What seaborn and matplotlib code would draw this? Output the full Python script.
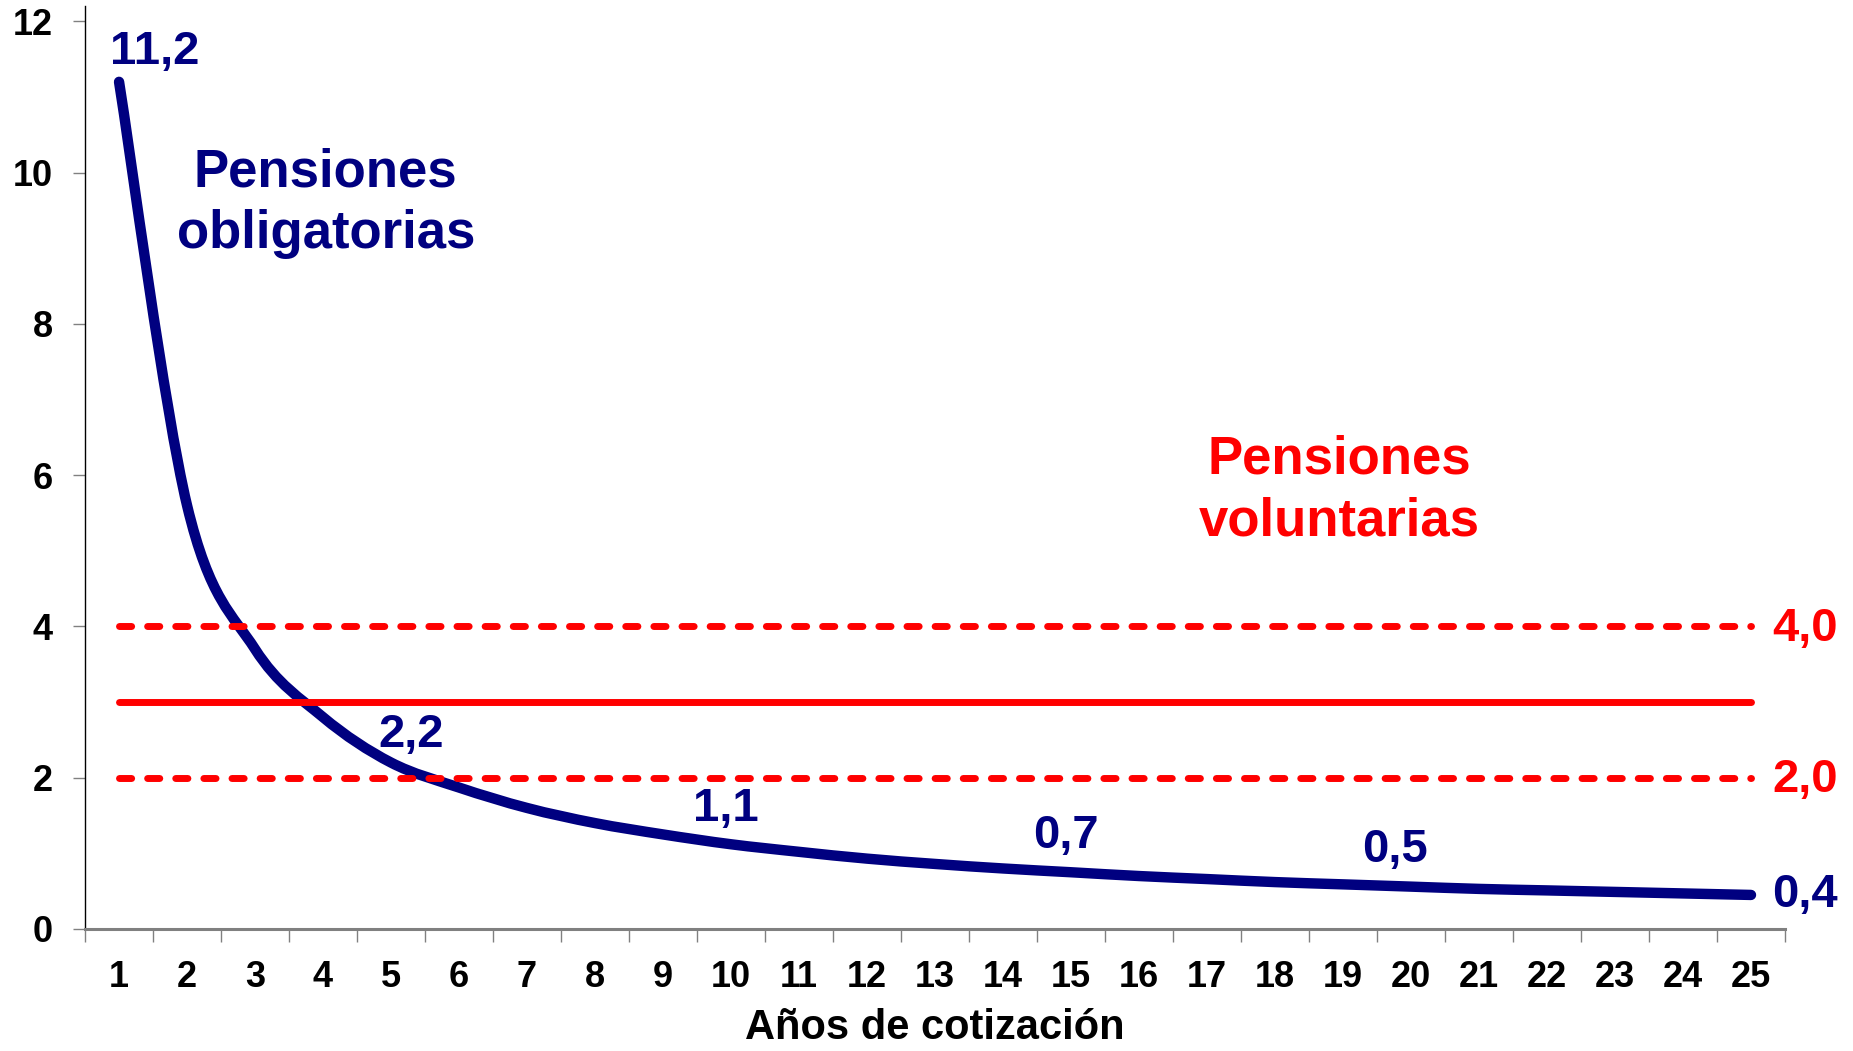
import numpy as np
import pandas as pd
import matplotlib
matplotlib.use('Agg')
import matplotlib.pyplot as plt
from matplotlib.path import Path
from matplotlib.patches import PathPatch
import seaborn as sns

# years of contributions and the cost curve
years = list(range(1, 26))
obligatorias = [11.2, 5.6, 3.7, 2.8, 2.2, 1.87, 1.6, 1.4, 1.25, 1.12,
                1.02, 0.93, 0.86, 0.8, 0.75, 0.70, 0.66, 0.62, 0.59, 0.56,
                0.53, 0.51, 0.49, 0.47, 0.45]

# voluntary pensions: band low / central / high
voluntarias_bajo = 2.0
voluntarias_medio = 3.0
voluntarias_alto = 4.0

# labelled points on the curve
etiquetas_anios = [1, 5, 10, 15, 20, 25]
etiquetas_texto = ['11,2', '2,2', '1,1', '0,7', '0,5', '0,4']

y_ticks = [0, 2, 4, 6, 8, 10, 12]

NAVY = '#000080'
RED = '#FF0000'

df = pd.DataFrame({'anio': years, 'valor': obligatorias})

sns.set_style('white')
plt.rcParams['font.family'] = ['Liberation Sans', 'DejaVu Sans']
plt.rcParams['font.weight'] = 'bold'

fig = plt.figure(figsize=(18.53, 10.51), dpi=100)
ax = fig.add_axes([0.0459, 0.1161, 0.9174, 0.878])

# voluntary pension lines
dashed = ax.hlines([voluntarias_alto, voluntarias_bajo], years[0], years[-1],
                   colors=RED, linewidth=5, linestyles=(0, (1.75, 2.3)))
dashed.set_capstyle('round')
solid = ax.hlines(voluntarias_medio, years[0], years[-1], colors=RED, linewidth=5)
solid.set_capstyle('round')

# mandatory pension curve (drawn by seaborn, then smoothed like the original)
sns.lineplot(data=df, x='anio', y='valor', ax=ax, color=NAVY, linewidth=7.5)
line = ax.lines[-1]
pts = line.get_xydata()
line.remove()

verts = [tuple(pts[0])]
codes = [Path.MOVETO]
n = len(pts)
for i in range(n - 1):
    p_prev = pts[max(i - 1, 0)]
    p0 = pts[i]
    p1 = pts[i + 1]
    p_next = pts[min(i + 2, n - 1)]
    c1 = p0 + (p1 - p_prev) / 6.0
    c2 = p1 - (p_next - p0) / 6.0
    verts += [tuple(c1), tuple(c2), tuple(p1)]
    codes += [Path.CURVE4] * 3
ax.add_patch(PathPatch(Path(verts, codes), facecolor='none', edgecolor=NAVY,
                       linewidth=7.5, capstyle='round', joinstyle='round'))

ax.set_xlim(0.5, 25.5)
ax.set_ylim(0, 12.2)

# value labels
label_pos = {1: (1.52, 11.60), 5: (5.30, 2.57), 10: (9.93, 1.58),
             15: (14.93, 1.23), 20: (19.77, 1.04), 25: (25.80, 0.45)}
for anio, txt in zip(etiquetas_anios, etiquetas_texto):
    x, y = label_pos[anio]
    ax.text(x, y, txt, color=NAVY, fontsize=34, fontweight='bold',
            ha='center', va='center')

ax.text(25.80, voluntarias_alto - 0.03, '4,0', color=RED, fontsize=34,
        fontweight='bold', ha='center', va='center')
ax.text(25.80, voluntarias_bajo - 0.03, '2,0', color=RED, fontsize=34,
        fontweight='bold', ha='center', va='center')

ax.text(4.04, 9.60, 'Pensiones\nobligatorias', color=NAVY, fontsize=38,
        fontweight='bold', ha='center', va='center', linespacing=1.3)
ax.text(18.94, 5.80, 'Pensiones\nvoluntarias', color=RED, fontsize=38,
        fontweight='bold', ha='center', va='center', linespacing=1.3)

# axes styling
ax.set_yticks(y_ticks)
ax.set_yticklabels([str(t) for t in y_ticks], fontsize=26, fontweight='bold',
                   color='black')
ax.set_xticks(years)
ax.set_xticklabels([str(y) for y in years], fontsize=26, fontweight='bold',
                   color='black')
ax.set_xticks(np.arange(0.5, 26, 1), minor=True)
ax.tick_params(axis='x', which='major', length=0, pad=22)
ax.tick_params(axis='x', which='minor', length=9, width=1, color='#808080',
               direction='out', bottom=True)
ax.tick_params(axis='y', length=9, width=1, color='#808080', direction='out',
               left=True, pad=14)

ax.set_xlabel('Años de cotización', fontsize=30, fontweight='bold',
              color='black', labelpad=10)
ax.set_ylabel('')

for side in ['top', 'right']:
    ax.spines[side].set_visible(False)
ax.spines['left'].set_color('black')
ax.spines['left'].set_linewidth(1)
ax.spines['bottom'].set_color('#808080')
ax.spines['bottom'].set_linewidth(2.2)
ax.grid(False)

fig.savefig('out.png', dpi=100)
